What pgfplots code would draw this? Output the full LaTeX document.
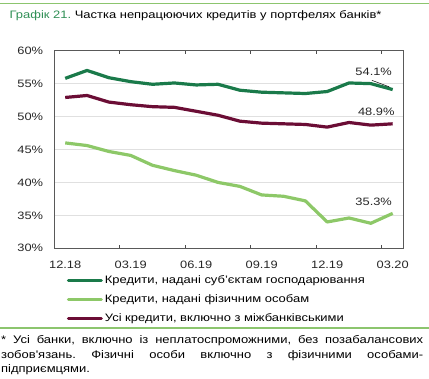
\documentclass[border=0pt]{standalone}
\usepackage{fontspec}
\setmainfont[FakeStretch=1.2]{Liberation Sans}
\newfontfamily\footfont[FakeStretch=1.18]{Liberation Sans}
\usepackage{pgfplots}
\pgfplotsset{compat=1.18}
\definecolor{dkgreen}{HTML}{1A7A4A}
\definecolor{ltgreen}{HTML}{8DC868}
\definecolor{maroonc}{HTML}{6B0D35}
\definecolor{titlegreen}{HTML}{2F8F55}
\definecolor{rulegreen}{HTML}{8CC56E}
\frenchspacing
\begin{document}
\begin{tikzpicture}
\useasboundingbox (0pt,0pt) rectangle (429pt,-379pt);
\draw[rulegreen, line width=1.5pt] (0pt,-3.7pt) -- (429pt,-3.7pt);
\node[anchor=base west, inner sep=0pt, font=\fontsize{10.8}{13}\selectfont] at (9.5pt,-18.3pt) {\textcolor{titlegreen}{Графік 21.} Частка непрацюючих кредитів у портфелях банків*};
\begin{axis}[
  at={(54.3pt,-248.3pt)}, anchor=south west, scale only axis,
  width=349.3pt, height=197.6pt,
  xmin=-0.5, xmax=15.5, ymin=30, ymax=60,
  xtick={0,3,6,9,12,15}, xticklabels={12.18,03.19,06.19,09.19,12.19,03.20},
  minor xtick={2.5,5.5,8.5,11.5,14.5},
  major tick length=0pt, minor tick length=3pt,
  minor tick style={draw=black!70, line width=0.6pt},
  ytick={30,35,...,60}, yticklabel={\pgfmathprintnumber{\tick}\%},
  /pgf/number format/assume math mode=true,
  ymajorgrids, grid style={black!12, line width=0.7pt},
  axis line style={draw=black!65, line width=0.8pt},
  tick label style={font=\fontsize{10.7}{12}\selectfont, text=black!85},
  yticklabel style={inner sep=0pt, xshift=-11pt},
  xticklabel style={inner sep=0pt, yshift=-13pt},
  legend style={at={(axis description cs:0.0355,-0.125)}, anchor=north west,
    draw=none, fill=none, inner sep=0pt, row sep=4.5pt,
    font=\fontsize{10.8}{12}\selectfont,
    nodes={text height=8pt, text depth=2.5pt, inner sep=2pt}},
  legend cell align=left,
  legend image code/.code={\draw[#1, line width=3pt, line cap=round] (0pt,0pt) -- (33pt,0pt);},
  every axis plot/.append style={line width=3.2pt, line join=round, no markers},
  clip=false,
]
\addplot[dkgreen] coordinates {(0,55.8) (1,57.0) (2,55.9) (3,55.3) (4,54.9) (5,55.1) (6,54.8) (7,54.9) (8,54.0) (9,53.7) (10,53.6) (11,53.5) (12,53.8) (13,55.1) (14,55.0) (15,54.1)};
\addlegendentry{Кредити, надані суб'єктам господарювання}
\addplot[ltgreen] coordinates {(0,46.0) (1,45.6) (2,44.7) (3,44.1) (4,42.6) (5,41.8) (6,41.1) (7,40.0) (8,39.4) (9,38.1) (10,37.9) (11,37.2) (12,34.0) (13,34.6) (14,33.8) (15,35.3)};
\addlegendentry{Кредити, надані фізичним особам}
\addplot[maroonc] coordinates {(0,52.9) (1,53.2) (2,52.2) (3,51.8) (4,51.5) (5,51.4) (6,50.8) (7,50.2) (8,49.3) (9,49.0) (10,48.9) (11,48.8) (12,48.4) (13,49.1) (14,48.7) (15,48.9)};
\addlegendentry{Усі кредити, включно з міжбанківськими}
\draw[black, line width=0.5pt] (axis cs:14.05,55.5) -- (axis cs:14.85,54.5);
\node[font=\fontsize{10.7}{12}\selectfont, text=black!85] at (axis cs:14.13,56.8) {54.1\%};
\node[font=\fontsize{10.7}{12}\selectfont, text=black!85] at (axis cs:14.25,50.7) {48.9\%};
\node[font=\fontsize{10.7}{12}\selectfont, text=black!85] at (axis cs:14.13,37.08) {35.3\%};
\end{axis}
\draw[rulegreen, line width=1.2pt] (0pt,-328pt) -- (429pt,-328pt);
\node[anchor=north west, inner sep=0pt, text width=422pt, align=justify, font=\footfont\fontsize{11}{14.6}\selectfont] at (1pt,-335.5pt) {\hyphenpenalty=10000\exhyphenpenalty=0\emergencystretch=20pt * Усі банки, включно із неплатоспроможними, без позабалансових\linebreak зобов'язань. Фізичні особи включно з фізичними особами-\linebreak підприємцями.};
\end{tikzpicture}
\end{document}
